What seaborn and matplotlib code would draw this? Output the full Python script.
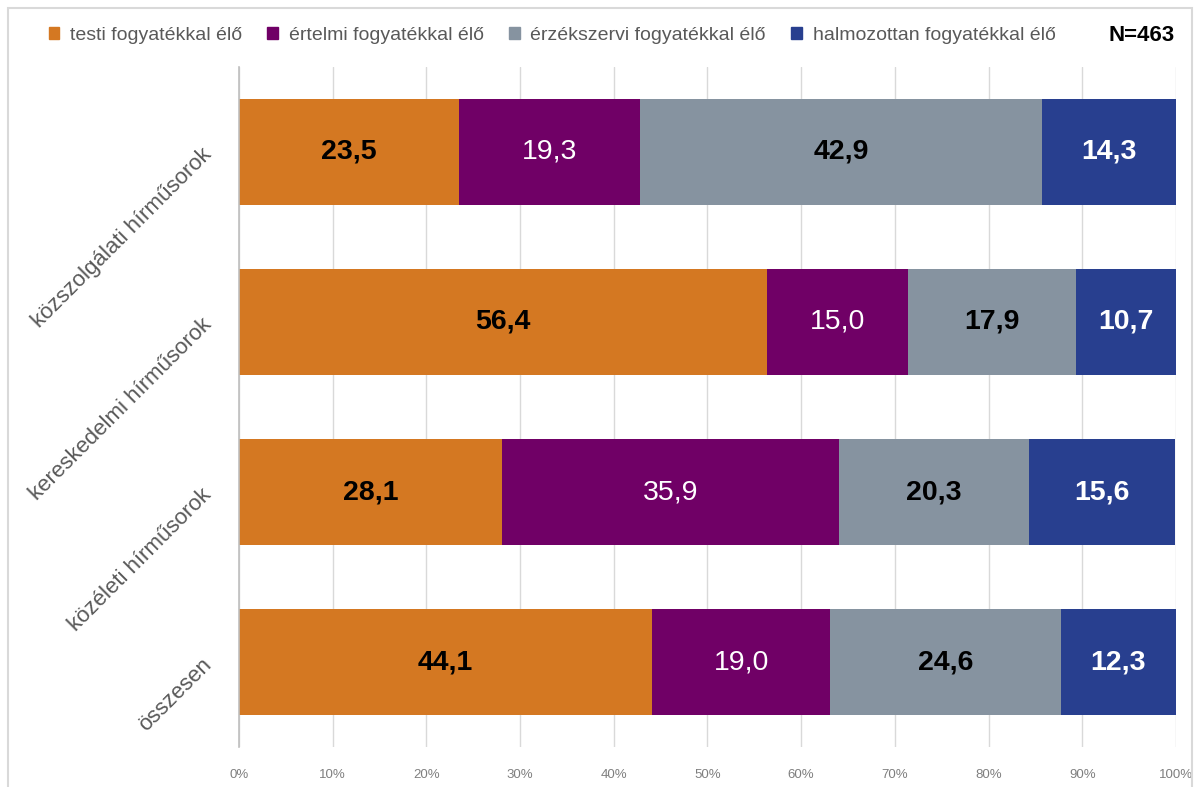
import numpy as np
import matplotlib
matplotlib.use("Agg")
import matplotlib.pyplot as plt
import seaborn as sns
import pandas as pd
from matplotlib.patches import Rectangle

# adatok
categories = ["közszolgálati hírműsorok", "kereskedelmi hírműsorok",
              "közéleti hírműsorok", "összesen"]
series_names = ["testi fogyatékkal élő", "értelmi fogyatékkal élő",
                "érzékszervi fogyatékkal élő", "halmozottan fogyatékkal élő"]
testi = [23.5, 56.4, 28.1, 44.1]
ertelmi = [19.3, 15.0, 35.9, 19.0]
erzekszervi = [42.9, 17.9, 20.3, 24.6]
halmozott = [14.3, 10.7, 15.6, 12.3]
x_ticks = [0, 10, 20, 30, 40, 50, 60, 70, 80, 90, 100]
n_label = "N=463"

colors = ["#D47822", "#700066", "#8693A0", "#283F8F"]
label_colors = ["black", "white", "black", "white"]
label_weights = ["bold", "normal", "bold", "bold"]

sns.set_style("white")
plt.rcParams["font.family"] = ["Liberation Sans", "DejaVu Sans"]

df = pd.DataFrame({"kategoria": categories, "testi": testi, "ertelmi": ertelmi,
                   "erzekszervi": erzekszervi, "halmozott": halmozott})
cols = ["testi", "ertelmi", "erzekszervi", "halmozott"]
cum = df[cols].cumsum(axis=1)

fig = plt.figure(figsize=(11.98, 7.87), dpi=100)
ax = fig.add_axes([0.1995, 0.0508, 0.7821, 0.8641])

# egymásra rajzolt kumulált sávok (hátulról előre)
for i in reversed(range(len(cols))):
    sns.barplot(x=cum[cols[i]], y=df["kategoria"], orient="h", color=colors[i],
                width=0.62, saturation=1, linewidth=0, ax=ax, zorder=2)

# értékcímkék
for i, c in enumerate(cols):
    for j, v in enumerate(df[c]):
        center = cum[c][j] - v / 2
        ax.text(center, j, f"{v:.1f}".replace(".", ","), ha="center", va="center",
                color=label_colors[i], fontweight=label_weights[i], fontsize=20.5, zorder=3)

ax.set_xlim(0, 100)
ax.set_ylim(len(categories) - 0.5, -0.5)
ax.set_xticks(x_ticks)
ax.set_xticklabels([f"{t}%" for t in x_ticks], fontsize=9.5, color="#7F7F7F")
ax.set_xlabel("")
ax.set_ylabel("")
ax.grid(axis="x", color="#D9D9D9", linewidth=1, zorder=0)
ax.set_axisbelow(True)
for s in ["top", "right", "bottom"]:
    ax.spines[s].set_visible(False)
ax.spines["left"].set_color("#BFBFBF")
ax.spines["left"].set_linewidth(1.2)
ax.tick_params(axis="x", length=0, pad=16)
ax.tick_params(axis="y", length=0, pad=22)
ax.set_yticks(range(len(categories)))
ax.set_yticklabels(categories, rotation=45, ha="right", va="center",
                   rotation_mode="anchor", fontsize=16, color="#595959")

# jelmagyarázat
handles = [Rectangle((0, 0), 1, 1, color=c) for c in colors]
fig.legend(handles, series_names, loc="center left", bbox_to_anchor=(0.026, 0.955),
           ncol=4, frameon=False, fontsize=14, labelcolor="#595959",
           handlelength=0.55, handleheight=0.55, handletextpad=0.55, columnspacing=1.3)
fig.text(0.953, 0.955, n_label, ha="center", va="center", fontsize=16,
         fontweight="bold", color="black")

# keret
fig.patches.append(Rectangle((0.007, -0.05), 0.988, 1.04, transform=fig.transFigure,
                             fill=False, edgecolor="#D9D9D9", linewidth=1.5))

fig.savefig("out.png", dpi=100)
